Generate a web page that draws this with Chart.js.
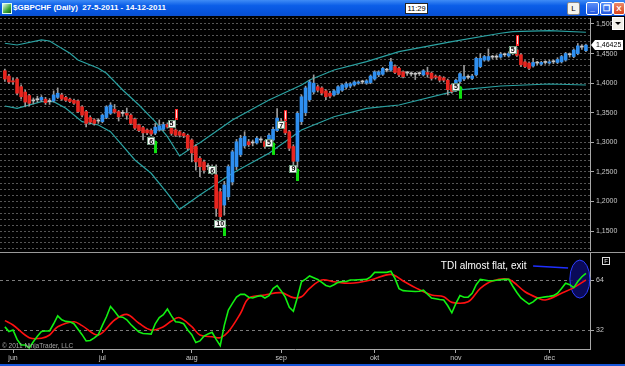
<!DOCTYPE html>
<html>
<head>
<meta charset="utf-8">
<script src="https://cdn.jsdelivr.net/npm/chart.js@4.4.0/dist/chart.umd.min.js"></script>
<style>
  html, body { margin: 0; padding: 0; background: #000; }
  body { width: 625px; height: 366px; position: relative; overflow: hidden; font-family: "Liberation Sans", Arial, sans-serif; }
  canvas { position: absolute; left: 0; }
  #price { top: 9px; }
  #tdi { top: 244px; }
  #titlebar { position: absolute; left: 0; top: 0; width: 625px; height: 16px; z-index: 5;
    background: linear-gradient(#3f8cf6, #0b5ee8 35%, #0653dc 80%, #0a4fd0); }
  #ico { position: absolute; left: 2px; top: 3px; width: 8px; height: 9px; background: linear-gradient(135deg, #e8f4e8, #3aa83a 60%, #1c5c1c); border: 1px solid #dfe; }
  #ttl { position: absolute; left: 13px; top: 2px; color: #fff; font-size: 8px; font-weight: bold; white-space: pre; line-height: 12px; }
  #clock { position: absolute; left: 405px; top: 3px; width: 21px; height: 9px; background: #fff; border: 1px solid #222; color: #000; font-size: 7.5px; line-height: 9px; text-align: center; }
  .tb { position: absolute; top: 2px; width: 11px; height: 11px; border: 1px solid #fff; border-radius: 2px; color: #fff; font-size: 8px; line-height: 11px; text-align: center; font-weight: bold; }
  #btnL { left: 567px; background: #f4f3ee; color: #000; border-color: #888; font-weight: normal; }
  #btnMin { left: 586px; background: linear-gradient(#5a8ff8, #2257e0); }
  #btnMax { left: 600px; background: linear-gradient(#5a8ff8, #2257e0); }
  #btnClose { left: 613px; width: 10px; background: linear-gradient(#ec8a6a, #d8431c); }
  #drop { position: absolute; left: 612px; top: 17px; width: 10px; height: 11px; background: #f0efe8; border: 1px solid #fff; z-index: 5; }
  #drop:after { content: ""; position: absolute; left: 2px; top: 4px; border-left: 3px solid transparent; border-right: 3px solid transparent; border-top: 3px solid #000; }
  #sep { position: absolute; left: 0; top: 252px; width: 625px; height: 1px; background: #9a9a9a; z-index: 4; }
  #frameBottom { position: absolute; left: 0; top: 364px; width: 625px; height: 2px; background: #1655d8; }
</style>
</head>
<body>
<div id="titlebar">
  <div id="ico"></div>
  <div id="ttl">$GBPCHF (Daily)  27-5-2011 - 14-12-2011</div>
  <div id="clock">11:29</div>
  <div class="tb" id="btnL">L</div>
  <div class="tb" id="btnMin">_</div>
  <div class="tb" id="btnMax">&#x2750;</div>
  <div class="tb" id="btnClose">X</div>
</div>
<div id="drop"></div>
<canvas id="price" width="625" height="250"></canvas>
<canvas id="tdi" width="625" height="120"></canvas>
<div id="sep"></div>
<div id="frameBottom"></div>
<script>
// daily bars 27-5-2011 .. 14-12-2011, one entry per bar
const opens = [
  1.421,1.412,1.404,1.407,1.394,1.385,1.379,1.370,1.372,1.3715,1.373,1.369,
  1.370,1.376,1.380,1.376,1.373,1.371,1.370,1.360,1.352,1.342,1.338,1.336,
  1.335,1.342,1.349,1.356,1.352,1.349,1.349,1.346,1.339,1.329,1.325,1.321,
  1.320,1.3155,1.321,1.322,1.330,1.324,1.321,1.318,1.315,1.312,1.304,1.293,
  1.273,1.267,1.259,1.257,1.245,1.2166,1.194,1.208,1.233,1.259,1.279,1.294,
  1.301,1.299,1.299,1.304,1.301,1.301,1.304,1.320,1.336,1.334,1.318,1.293,
  1.268,1.335,1.350,1.372,1.385,1.394,1.392,1.387,1.383,1.380,1.383,1.388,
  1.393,1.395,1.397,1.400,1.402,1.400,1.401,1.407,1.414,1.415,1.422,1.422,
  1.428,1.425,1.419,1.417,1.4155,1.415,1.416,1.414,1.418,1.417,1.412,1.411,
  1.409,1.405,1.397,1.390,1.403,1.407,1.410,1.408,1.414,1.428,1.439,1.439,
  1.444,1.444,1.444,1.448,1.446,1.451,1.456,1.448,1.436,1.434,1.429,1.434,
  1.432,1.435,1.434,1.436,1.435,1.436,1.439,1.448,1.445,1.450,1.461,1.455
];
const highs = [
  1.424,1.415,1.408,1.409,1.397,1.388,1.381,1.375,1.378,1.379,1.376,1.374,
  1.387,1.392,1.383,1.378,1.375,1.373,1.372,1.362,1.354,1.345,1.340,1.340,
  1.348,1.362,1.367,1.364,1.354,1.354,1.358,1.348,1.341,1.331,1.327,1.323,
  1.323,1.332,1.338,1.334,1.333,1.327,1.323,1.320,1.317,1.314,1.306,1.296,
  1.276,1.270,1.264,1.262,1.262,1.222,1.234,1.262,1.287,1.305,1.312,1.318,
  1.305,1.304,1.310,1.308,1.303,1.315,1.326,1.357,1.340,1.337,1.320,1.296,
  1.352,1.380,1.395,1.405,1.414,1.397,1.394,1.389,1.386,1.389,1.396,1.399,
  1.402,1.401,1.404,1.404,1.405,1.406,1.414,1.421,1.421,1.427,1.425,1.442,
  1.431,1.427,1.421,1.420,1.419,1.418,1.419,1.423,1.427,1.419,1.414,1.413,
  1.411,1.407,1.399,1.407,1.418,1.430,1.414,1.415,1.444,1.450,1.447,1.458,
  1.447,1.448,1.452,1.451,1.453,1.454,1.458,1.450,1.438,1.436,1.442,1.437,
  1.437,1.438,1.439,1.439,1.443,1.447,1.452,1.451,1.458,1.467,1.465,1.466
];
const lows = [
  1.403,1.399,1.398,1.380,1.373,1.360,1.362,1.365,1.368,1.369,1.364,1.364,
  1.368,1.374,1.371,1.369,1.367,1.364,1.350,1.343,1.326,1.331,1.329,1.332,
  1.333,1.340,1.347,1.349,1.336,1.344,1.339,1.330,1.322,1.318,1.304,1.313,
  1.311,1.313,1.319,1.320,1.324,1.312,1.310,1.309,1.308,1.287,1.267,1.253,
  1.242,1.248,1.254,1.246,1.175,1.157,1.177,1.203,1.228,1.254,1.276,1.291,
  1.293,1.294,1.297,1.300,1.290,1.298,1.302,1.318,1.330,1.313,1.286,1.262,
  1.258,1.330,1.345,1.369,1.382,1.385,1.380,1.372,1.375,1.378,1.381,1.386,
  1.390,1.392,1.395,1.398,1.399,1.398,1.399,1.405,1.411,1.413,1.419,1.420,
  1.416,1.411,1.409,1.413,1.412,1.406,1.413,1.412,1.410,1.405,1.407,1.402,
  1.402,1.380,1.383,1.386,1.400,1.404,1.407,1.406,1.412,1.426,1.437,1.437,
  1.441,1.440,1.442,1.445,1.444,1.448,1.445,1.428,1.426,1.423,1.427,1.431,
  1.430,1.432,1.432,1.433,1.433,1.434,1.437,1.444,1.443,1.448,1.457,1.453
];
const closes = [
  1.407,1.402,1.402,1.383,1.377,1.368,1.366,1.370,1.372,1.376,1.367,1.369,
  1.380,1.383,1.373,1.371,1.369,1.366,1.352,1.346,1.332,1.334,1.332,1.336,
  1.346,1.360,1.363,1.351,1.343,1.349,1.346,1.332,1.324,1.320,1.316,1.316,
  1.314,1.3257,1.328,1.330,1.326,1.315,1.312,1.312,1.311,1.290,1.282,1.267,
  1.259,1.253,1.259,1.250,1.1885,1.1744,1.228,1.259,1.284,1.301,1.307,1.310,
  1.296,1.299,1.307,1.304,1.293,1.312,1.322,1.341,1.334,1.316,1.290,1.268,
  1.349,1.377,1.392,1.402,1.400,1.388,1.383,1.377,1.378,1.387,1.394,1.397,
  1.399,1.399,1.402,1.402,1.402,1.404,1.412,1.419,1.419,1.425,1.422,1.436,
  1.418,1.414,1.411,1.417,1.4155,1.415,1.416,1.421,1.415,1.408,1.410,1.405,
  1.405,1.389,1.386,1.405,1.416,1.411,1.410,1.412,1.442,1.442,1.445,1.445,
  1.444,1.444,1.449,1.448,1.450,1.451,1.447,1.431,1.428,1.425,1.435,1.434,
  1.435,1.435,1.436,1.436,1.440,1.445,1.450,1.448,1.456,1.463,1.461,1.4643
];

// envelope bands, read at bar indexes
const upperIdx  = [0,3,9,11,16,18,23,25,29,33,37,40,43,47,48,56,65,73,75,81,89,97,110,122,125,134,143];
const upperBand = [1.4674,1.4645,1.4730,1.4713,1.4505,1.4392,1.4251,1.4167,1.3885,1.3631,1.3349,1.3096,1.2769,1.2955,1.2994,1.3378,1.3716,1.3969,1.4054,1.4223,1.4363,1.4532,1.4701,1.4843,1.4870,1.4887,1.4860];
const lowerIdx  = [0,3,9,12,15,19,23,26,32,36,40,43,48,56,65,73,81,89,97,112,122,134,143];
const lowerBand = [1.3614,1.3575,1.3687,1.3687,1.3575,1.3349,1.3293,1.3180,1.2702,1.2477,1.2139,1.1868,1.2110,1.2477,1.2815,1.3209,1.3433,1.3575,1.3631,1.3885,1.3952,1.3986,1.3969];

// count labels on the bars (a = arrow direction)
const markers = [
  {i: 36, p: 1.302, t: '6', a: 'up'},
  {i: 41, p: 1.331, t: '5', a: 'down'},
  {i: 51, p: 1.253, t: '6', a: null},
  {i: 53, p: 1.162, t: '10', a: 'up'},
  {i: 65, p: 1.299, t: '5', a: 'up'},
  {i: 68, p: 1.329, t: '7', a: 'down'},
  {i: 71, p: 1.255, t: '9', a: 'up'},
  {i: 111, p: 1.394, t: '5', a: 'up'},
  {i: 125, p: 1.456, t: '5', a: 'down'}
];

// TDI: green price line per bar, red signal line at sampled bars
const tdiGreen = [
  34,31,32,26,22.4,22.4,20.5,24.5,28,31,31.4,31.4,
  36,41,38.5,37.5,37.3,36,32.5,29,25,25.3,27,29,
  35,40.5,47,44,40.5,40.2,38.5,35.5,33,30.7,29.8,29.6,
  29.4,36,40,41.8,45.4,41,37.3,37,36,32,29,24,
  25,28,29.5,30.5,26,22,35,44.8,49,53,54.8,54.8,
  53,52.5,53.5,54,52.5,54,58.5,60.4,57,53,46.5,44,
  53,62.9,64.5,66.6,65.5,64.3,62.5,60.5,59.7,61,62.5,63,
  63,64,64,64.2,64.3,64.4,66,68.9,68.9,68.9,68.9,69.6,
  65,58.5,57.2,57,56.8,56.6,56.8,57.5,55,52.5,52,51.5,
  51.2,47.5,43,49,54,53,53,55.5,61,64.4,64,63.5,
  63.5,63.8,64.2,64.4,64.4,60,56,52.5,50.5,48.6,50,52.3,
  52.8,53.2,53.5,54,55.5,58.5,61.9,61,59.1,63,66.1,68.3
];
const redIdx = [0,2,6,9,11,13,17,19,23,27,30,33,36,39,41,43,46,48,51,53,55,58,60,64,68,71,73,75,78,81,85,90,95,98,101,105,108,110,114,117,120,124,128,131,133,137,140,143];
const tdiRed = [38,35.2,27.1,26.7,28.8,34.1,37.3,34.8,28.8,38.4,42,36.3,32,34.1,37.8,39.9,34.1,28.8,27.7,27.1,30.9,42.7,52.3,54.4,55.9,52.7,53.3,58.7,64,62.9,61.9,64,67.6,63.4,59.1,54.4,53.3,49.7,50.1,58.7,63.4,64.4,56.5,52.7,51.2,55.5,59.1,64];

const priceLabels = [1.15, 1.20, 1.25, 1.30, 1.35, 1.40, 1.45, 1.50];
const tdiLevels = [32, 64];
const monthTicks = [2, 24, 46, 68, 91, 111, 134];
const monthNames = ['jun', 'jul', 'aug', 'sep', 'okt', 'nov', 'dec'];
const lastPrice = '1,46425';

Chart.defaults.font.family = '"Liberation Sans", Arial, sans-serif';
Chart.defaults.color = '#c8c8c8';

const UP = '#2f8ff0', DOWN = '#e8251f', FLAT = '#c8c8c8';
const bars = opens.map((o, i) => i);
const isLabel = v => priceLabels.some(l => Math.abs(l - v) < 1e-6);
const minorSteps = [];
for (let k = 112; k <= 151; k++) minorSteps.push(k / 100);

const markerPlugin = {
  id: 'markers',
  afterDatasetsDraw(chart) {
    const {ctx, scales: {x, y}, chartArea} = chart;
    ctx.save();
    markers.forEach(m => {
      const cx = x.getPixelForValue(m.i), cy = y.getPixelForValue(m.p);
      const ax = Math.round(x.getPixelForValue(m.i + 1));
      if (m.a === 'up') {
        ctx.fillStyle = '#10e010';
        ctx.fillRect(ax - 1, cy, 3, 12);
        ctx.beginPath(); ctx.moveTo(ax - 2, cy + 2); ctx.lineTo(ax + 0.5, cy - 1); ctx.lineTo(ax + 3, cy + 2); ctx.fill();
      } else if (m.a === 'down') {
        ctx.fillStyle = '#ff2a2a';
        ctx.fillRect(ax - 1, cy - 15, 3, 11);
        ctx.fillStyle = '#ffd8d8';
        ctx.fillRect(ax, cy - 14, 1, 8);
      }
      ctx.font = 'bold 7px "Liberation Sans", Arial, sans-serif';
      const w = ctx.measureText(m.t).width + 4;
      ctx.fillStyle = '#fff';
      ctx.fillRect(Math.round(cx - w / 2), Math.round(cy - 4), w, 8);
      ctx.strokeStyle = '#6f9a80';
      ctx.lineWidth = 1;
      ctx.strokeRect(Math.round(cx - w / 2) + 0.5, Math.round(cy - 4) + 0.5, w - 1, 7);
      ctx.fillStyle = '#000';
      ctx.textAlign = 'center'; ctx.textBaseline = 'middle';
      ctx.fillText(m.t, cx, cy + 0.5);
    });
    // last price tag on the axis
    const ly = Math.round(y.getPixelForValue(closes[closes.length - 1]));
    const lx = chartArea.right + 1;
    ctx.fillStyle = '#fff';
    ctx.beginPath();
    ctx.moveTo(lx, ly); ctx.lineTo(lx + 4, ly - 5); ctx.lineTo(lx + 32, ly - 5);
    ctx.lineTo(lx + 32, ly + 5); ctx.lineTo(lx + 4, ly + 5); ctx.closePath(); ctx.fill();
    ctx.fillStyle = '#000';
    ctx.font = '7px "Liberation Sans", Arial, sans-serif';
    ctx.textAlign = 'left'; ctx.textBaseline = 'middle';
    ctx.fillText(lastPrice, lx + 5, ly + 0.5);
    ctx.restore();
  }
};

new Chart(document.getElementById('price'), {
  type: 'bar',
  data: {
    datasets: [
      { type: 'line', data: upperIdx.map((x, k) => ({x, y: upperBand[k]})),
        borderColor: '#2aa2a2', borderWidth: 1.2, pointRadius: 0, tension: 0, order: 3 },
      { type: 'line', data: lowerIdx.map((x, k) => ({x, y: lowerBand[k]})),
        borderColor: '#2aa2a2', borderWidth: 1.2, pointRadius: 0, tension: 0, order: 3 },
      { data: bars.map(i => ({x: i, y: [lows[i], highs[i]]})),
        backgroundColor: '#9c9c9c', barThickness: 1, grouped: false, order: 2 },
      { data: bars.map(i => ({x: i, y: [opens[i], closes[i]]})),
        backgroundColor: c => closes[c.dataIndex] > opens[c.dataIndex] ? UP : closes[c.dataIndex] < opens[c.dataIndex] ? DOWN : FLAT,
        barThickness: 3, minBarLength: 1, grouped: false, order: 1 }
    ]
  },
  options: {
    responsive: false, animation: false, events: [],
    layout: { padding: { top: 9, bottom: 9, left: 0, right: 0 } },
    plugins: { legend: { display: false }, tooltip: { enabled: false } },
    scales: {
      x: { type: 'linear', min: -1.2, max: 144, offset: false, display: false },
      y: {
        position: 'right', min: 1.1181, max: 1.5101,
        afterBuildTicks: s => { s.ticks = minorSteps.map(v => ({value: v})); },
        afterFit: s => { s.width = 35; },
        ticks: {
          autoSkip: false, padding: 2, color: '#c8c8c8', font: { size: 7 },
          callback: v => isLabel(v) ? v.toFixed(4).replace('.', ',') : ''
        },
        grid: {
          color: '#555', lineWidth: 1, tickLength: 4, tickBorderDash: [],
          tickColor: c => isLabel(c.tick.value) ? '#a8a8a8' : 'rgba(0,0,0,0)'
        },
        border: { display: true, color: '#a8a8a8', dash: [2, 2] }
      }
    }
  },
  plugins: [markerPlugin]
});

const notePlugin = {
  id: 'notes',
  beforeDatasetsDraw(chart) {
    const {ctx, scales: {x, y}} = chart;
    ctx.save();
    ctx.beginPath();
    ctx.ellipse(x.getPixelForValue(141.5), y.getPixelForValue(64.6), 10, 19, 0, 0, Math.PI * 2);
    ctx.fillStyle = 'rgba(12,12,105,0.85)';
    ctx.fill();
    ctx.strokeStyle = '#2b3dff'; ctx.lineWidth = 1;
    ctx.stroke();
    ctx.restore();
  },
  afterDatasetsDraw(chart) {
    const {ctx, scales: {x, y}, chartArea} = chart;
    ctx.save();
    ctx.fillStyle = '#fff';
    ctx.font = '10px "Liberation Sans", Arial, sans-serif';
    ctx.textBaseline = 'alphabetic';
    ctx.fillText('TDI almost flat, exit', x.getPixelForValue(107.3), y.getPixelForValue(71.0));
    ctx.strokeStyle = '#1f2fff'; ctx.lineWidth = 1.5;
    ctx.beginPath();
    ctx.moveTo(x.getPixelForValue(130), y.getPixelForValue(73.0));
    ctx.lineTo(x.getPixelForValue(138.6), y.getPixelForValue(71.7));
    ctx.stroke();
    ctx.fillStyle = '#a8a8a8';
    ctx.font = '6.5px "Liberation Sans", Arial, sans-serif';
    ctx.fillText('\u00a9 2011 NinjaTrader, LLC', chartArea.left + 2, chartArea.bottom - 1);
    // small F box in the axis area
    ctx.strokeStyle = '#e0e0e0'; ctx.lineWidth = 1;
    ctx.strokeRect(chartArea.right + 12.5, chartArea.top + 4.5, 7, 7);
    ctx.fillStyle = '#e0e0e0';
    ctx.font = '6px "Liberation Sans", Arial, sans-serif';
    ctx.textAlign = 'center'; ctx.textBaseline = 'middle';
    ctx.fillText('F', chartArea.right + 16, chartArea.top + 8.5);
    ctx.restore();
  }
};

new Chart(document.getElementById('tdi'), {
  type: 'line',
  data: {
    datasets: [
      { data: tdiGreen.map((v, i) => ({x: i, y: v})), borderColor: '#12f012', borderWidth: 1.6, pointRadius: 0, tension: 0 },
      { data: redIdx.map((x, k) => ({x, y: tdiRed[k]})), borderColor: '#ff1010', borderWidth: 1.6, pointRadius: 0, tension: 0.35 }
    ]
  },
  options: {
    responsive: false, animation: false, events: [],
    layout: { padding: { top: 9, bottom: 0, left: 0, right: 0 } },
    plugins: { legend: { display: false }, tooltip: { enabled: false } },
    scales: {
      x: {
        type: 'linear', min: -1.2, max: 144,
        afterBuildTicks: s => { s.ticks = monthTicks.map(v => ({value: v})); },
        afterFit: s => { s.height = 15; },
        ticks: { autoSkip: false, maxRotation: 0, padding: 1, color: '#c8c8c8', font: { size: 7 },
                 callback: v => monthNames[monthTicks.indexOf(v)] },
        grid: { drawOnChartArea: false, tickLength: 4, tickColor: '#a8a8a8' },
        border: { display: true, color: '#a8a8a8' }
      },
      y: {
        position: 'right', min: 19.84, max: 81.28,
        afterBuildTicks: s => { s.ticks = tdiLevels.map(v => ({value: v})); },
        afterFit: s => { s.width = 35; },
        ticks: { padding: 2, color: '#c8c8c8', font: { size: 7 }, callback: v => String(v) },
        grid: { color: '#7c7c7c', tickLength: 4, tickColor: '#a8a8a8', tickBorderDash: [] },
        border: { display: true, color: '#a8a8a8', dash: [3, 3] }
      }
    }
  },
  plugins: [notePlugin]
});
</script>
</body>
</html>
